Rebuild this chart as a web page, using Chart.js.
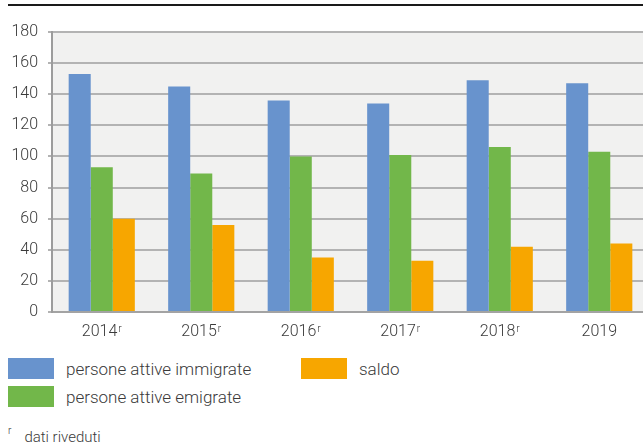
<!DOCTYPE html>
<html>
<head>
<meta charset="utf-8">
<script src="https://cdn.jsdelivr.net/npm/chart.js@4"></script>
<style>
  body { margin: 0; width: 643px; height: 444px; overflow: hidden; background: #fff; position: relative; font-family: Roboto, "Noto Sans", sans-serif; color: #3a3a3a; }
  #rule { position: absolute; left: 8px; top: 4px; width: 635px; height: 2px; background: #1a1a1a; }
  #wrap { position: absolute; left: 0; top: 0; width: 649px; height: 350px; }
  .item { position: absolute; height: 21px; display: flex; align-items: center; font-size: 17px; font-weight: 300; white-space: nowrap; }
  .box { width: 46px; height: 21px; margin-right: 12px; flex: none; }
  #note { position: absolute; left: 8px; top: 427px; font-size: 15px; font-weight: 300; white-space: nowrap; }
  #note sup { font-size: 10px; position: relative; top: -2px; margin-right: 13px; }
</style>
</head>
<body>
<div id="rule"></div>
<div id="wrap"><canvas id="c" width="649" height="350"></canvas></div>
<div id="legend"></div>
<div id="note"><sup>r</sup>dati riveduti</div>
<script>
// Anni; revised[i] marca i dati riveduti (r)
const categories = ['2014', '2015', '2016', '2017', '2018', '2019'];
const revised = [true, true, true, true, true, false];
// Persone attive, valori in migliaia
const immigrate = [153, 145, 136, 134, 149, 147];
const emigrate = [93, 89, 100, 101, 106, 103];
const saldo = [60, 56, 35, 33, 42, 44];
const yTicks = [0, 20, 40, 60, 80, 100, 120, 140, 160, 180];

const seriesNames = ['persone attive immigrate', 'persone attive emigrate', 'saldo'];
const seriesColors = ['#6893cd', '#72b74a', '#f7a600'];

const textColor = '#3a3a3a';

// grey plot background
const plotBg = {
  id: 'plotBg',
  beforeDraw(chart) {
    const { ctx, chartArea: a } = chart;
    ctx.save();
    ctx.fillStyle = '#f1f1f0';
    ctx.fillRect(a.left, a.top, a.right - a.left, a.bottom - a.top);
    ctx.restore();
  }
};

// year labels under the x axis, with a superscript "r" for revised years
const yearLabels = {
  id: 'yearLabels',
  afterDraw(chart) {
    const { ctx, scales: { x }, chartArea: a } = chart;
    ctx.save();
    ctx.fillStyle = textColor;
    categories.forEach((lab, i) => {
      const cx = x.getPixelForValue(i);
      ctx.font = '300 16px Roboto';
      const w = ctx.measureText(lab).width;
      let rw = 0;
      if (revised[i]) {
        ctx.font = '300 10px Roboto';
        rw = ctx.measureText('r').width + 1;
      }
      const x0 = cx - (w + rw) / 2;
      ctx.font = '300 16px Roboto';
      ctx.textAlign = 'left';
      ctx.textBaseline = 'middle';
      ctx.fillText(lab, x0, a.bottom + 20);
      if (revised[i]) {
        ctx.font = '300 10px Roboto';
        ctx.textBaseline = 'top';
        ctx.fillText('r', x0 + w + 1, a.bottom + 12);
      }
    });
    ctx.restore();
  }
};

const tickFont = { family: 'Roboto', size: 16, weight: 300 };

const chart = new Chart(document.getElementById('c'), {
  type: 'bar',
  data: {
    labels: categories,
    datasets: [immigrate, emigrate, saldo].map((d, i) => ({
      label: seriesNames[i],
      data: d,
      backgroundColor: seriesColors[i],
      borderWidth: 0,
      categoryPercentage: 0.665,
      barPercentage: 1.0
    }))
  },
  options: {
    responsive: false,
    animation: false,
    layout: { padding: { top: 32, left: 0, right: 0, bottom: 0 } },
    plugins: { legend: { display: false }, tooltip: { enabled: false } },
    scales: {
      x: {
        grid: { display: false },
        border: { display: true, color: '#a3a3a3', width: 2 },
        ticks: { display: false },
        afterFit(s) { s.height = 38; }
      },
      y: {
        min: yTicks[0],
        max: yTicks[yTicks.length - 1],
        afterBuildTicks(s) { s.ticks = yTicks.map(v => ({ value: v })); },
        grid: { color: '#b3b3b3', lineWidth: 2, tickLength: 4, drawTicks: true },
        border: { display: true, color: '#9c9c9c', width: 2 },
        ticks: { font: tickFont, color: textColor, padding: 10 },
        afterFit(s) { s.width = 52; }
      }
    }
  },
  plugins: [plotBg, yearLabels]
});

// legend in two columns, built from the datasets
const legendPos = [[8, 358], [8, 386], [301, 358]];
const legend = document.getElementById('legend');
chart.data.datasets.forEach((ds, i) => {
  const el = document.createElement('div');
  el.className = 'item';
  el.style.left = legendPos[i][0] + 'px';
  el.style.top = legendPos[i][1] + 'px';
  el.innerHTML = '<span class="box" style="background:' + ds.backgroundColor + '"></span><span>' + ds.label + '</span>';
  legend.appendChild(el);
});
</script>
</body>
</html>
